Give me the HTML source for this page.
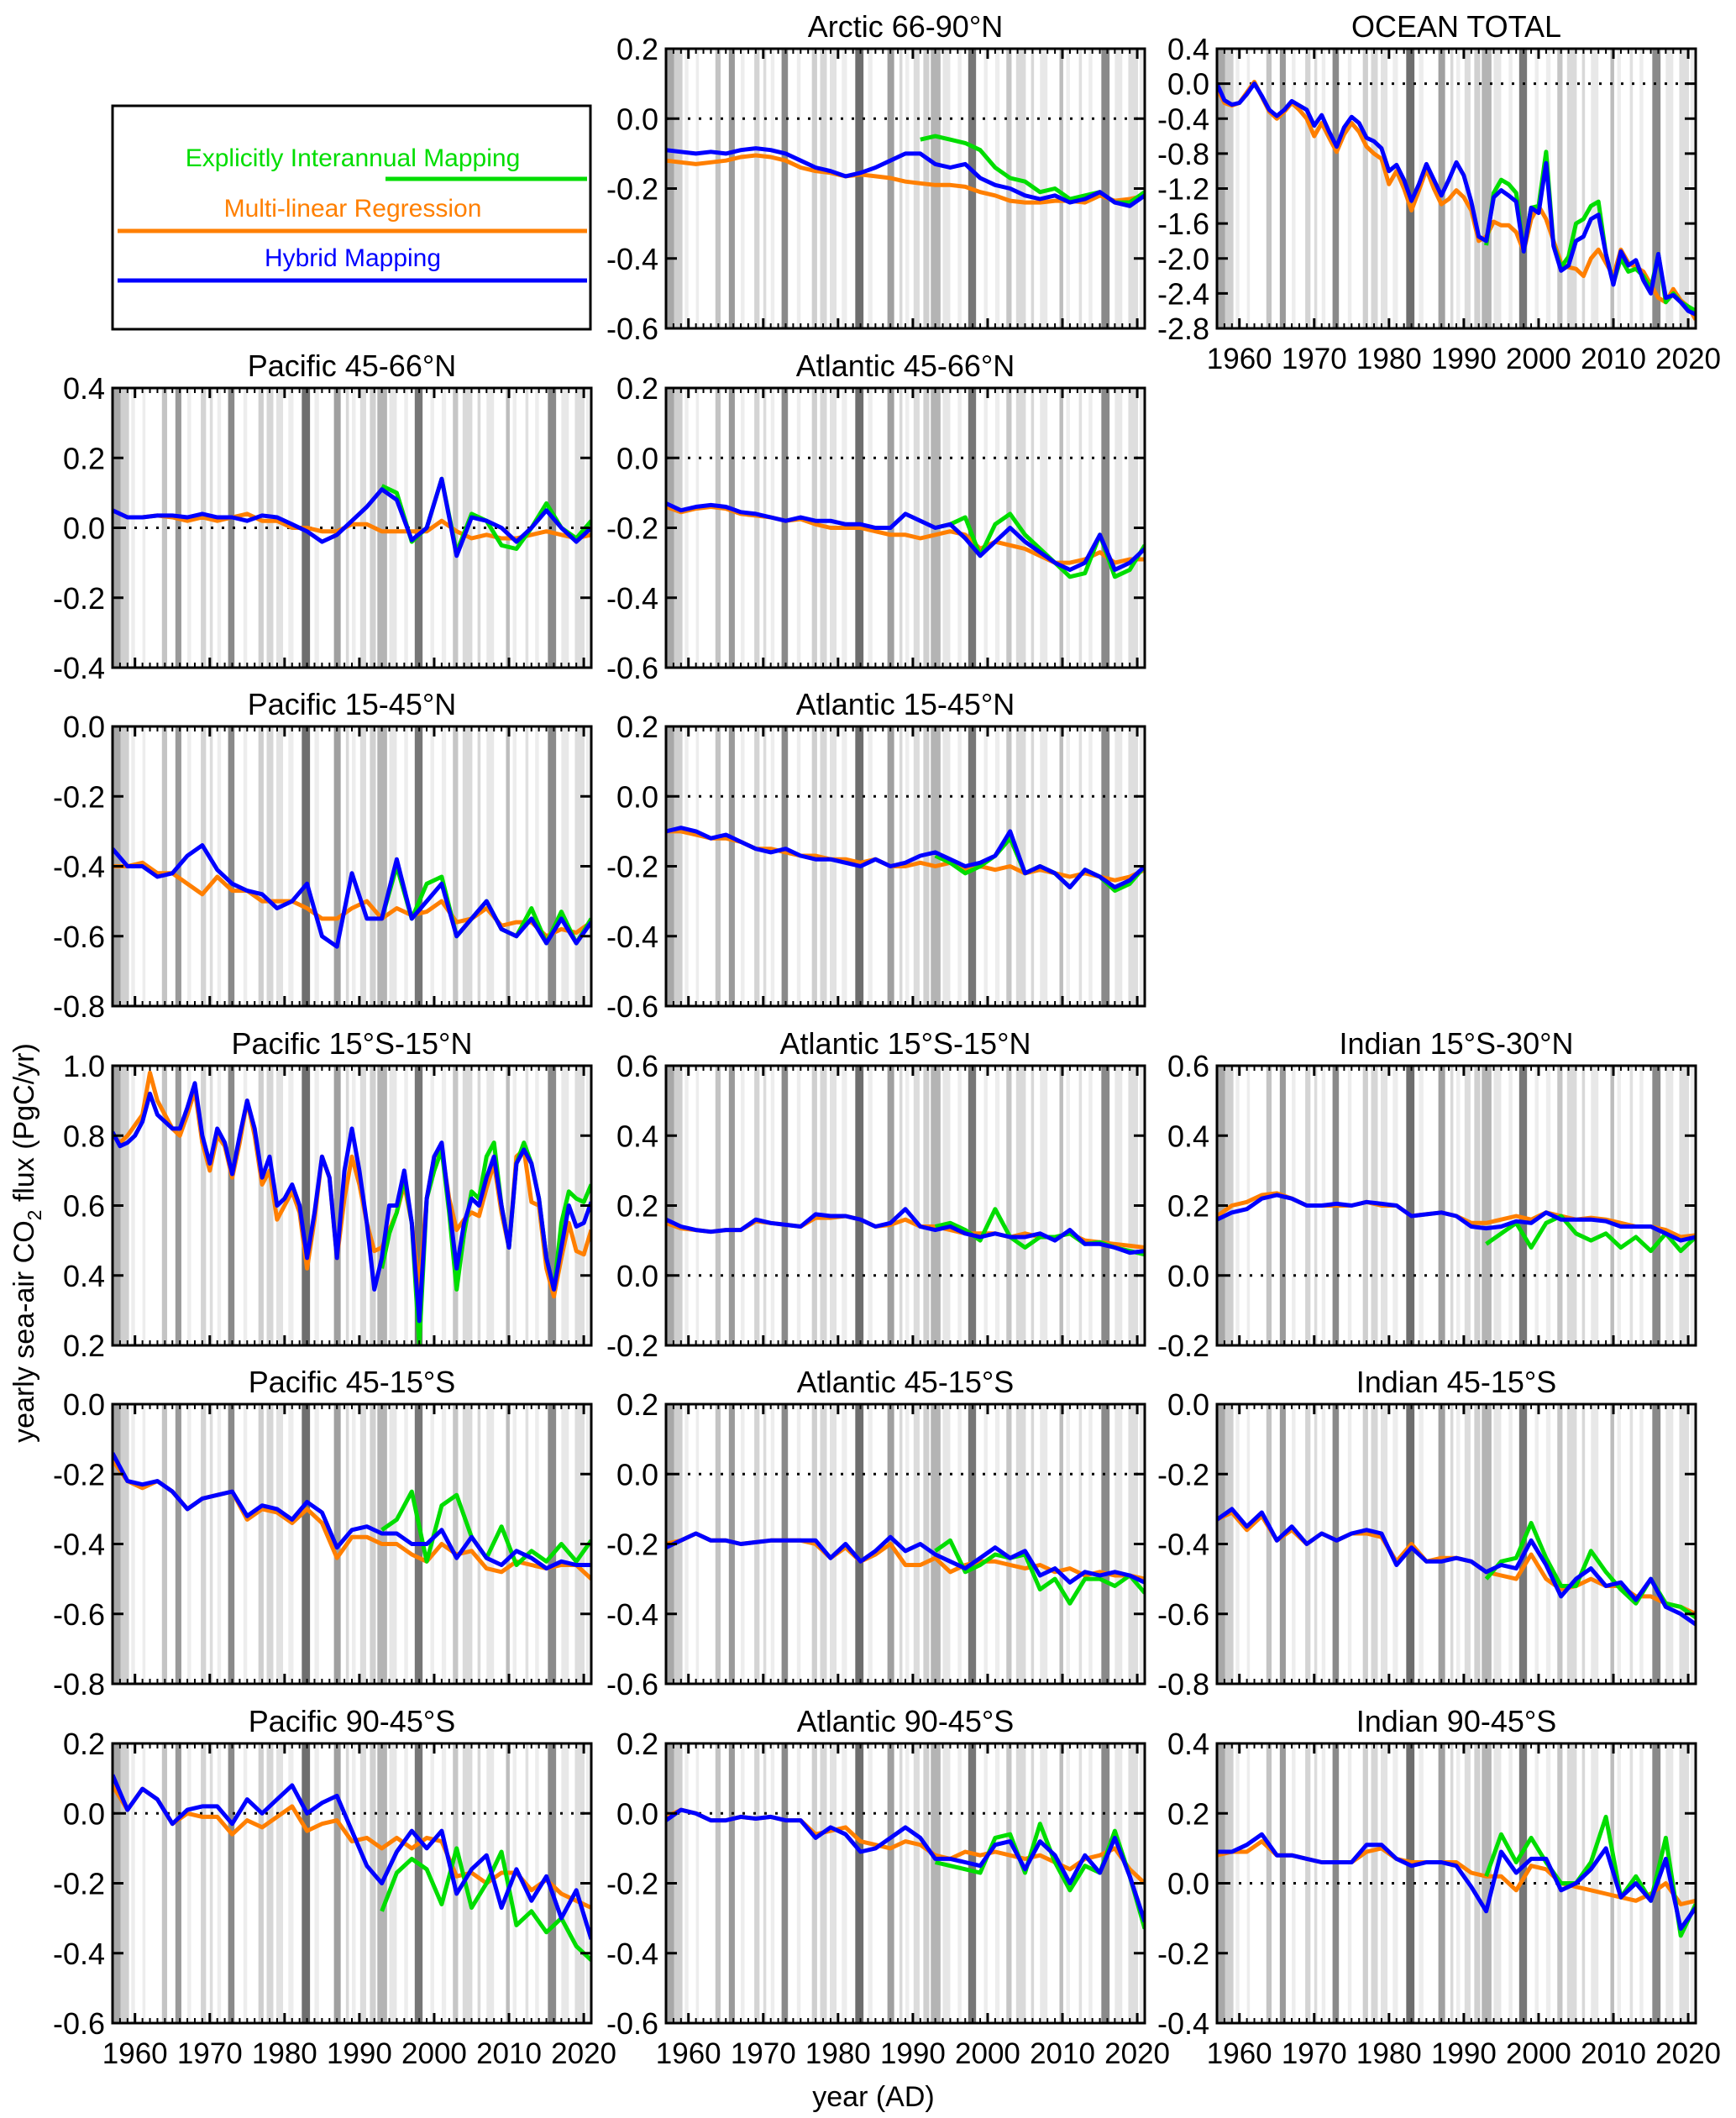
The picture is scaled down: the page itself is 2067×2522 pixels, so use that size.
<!DOCTYPE html>
<html><head><meta charset="utf-8"><title>Sea-air CO2 flux</title>
<style>
html,body{margin:0;padding:0;background:#fff;}
svg{display:block;font-family:"Liberation Sans",Arial,sans-serif;}
</style></head>
<body>
<svg id="fig" width="2067" height="2522" viewBox="0 0 2067 2522" xmlns="http://www.w3.org/2000/svg">
<rect x="0" y="0" width="2067" height="2522" fill="#fff"/>
<g id="legend">
  <rect x="134" y="126" width="569" height="266" fill="#fff" stroke="#000" stroke-width="3"/>
  <text x="420" y="198" font-size="30" fill="#00dd00" text-anchor="middle">Explicitly Interannual Mapping</text>
  <line x1="459" y1="213" x2="699" y2="213" stroke="#00dd00" stroke-width="5"/>
  <text x="420" y="258" font-size="30" fill="#ff7f00" text-anchor="middle">Multi-linear Regression</text>
  <line x1="140" y1="275" x2="699" y2="275" stroke="#ff7f00" stroke-width="5"/>
  <text x="420" y="317" font-size="30" fill="#0000ff" text-anchor="middle">Hybrid Mapping</text>
  <line x1="140" y1="334" x2="699" y2="334" stroke="#0000ff" stroke-width="5"/>
</g>
<text x="0" y="0" font-size="34" text-anchor="middle" transform="translate(40,1480) rotate(-90)">yearly sea-air CO<tspan font-size="23" dy="9">2</tspan><tspan dy="-9"> flux (PgC/yr)</tspan></text>
<text x="1040" y="2508" font-size="34" text-anchor="middle">year (AD)</text>
</svg>
<script>
// ---------- shared categories ----------
const yrs2 = [1957,1959,1961,1963,1965,1967,1969,1971,1973,1975,1977,1979,1981,1983,1985,1987,1989,1991,1993,1995,1997,1999,2001,2003,2005,2007,2009,2011,2013,2015,2017,2019,2021];
const yrs1 = [1957,1958,1959,1960,1961,1962,1963,1964,1965,1966,1967,1968,1969,1970,1971,1972,1973,1974,1975,1976,1977,1978,1979,1980,1981,1982,1983,1984,1985,1986,1987,1988,1989,1990,1991,1992,1993,1994,1995,1996,1997,1998,1999,2000,2001,2002,2003,2004,2005,2006,2007,2008,2009,2010,2011,2012,2013,2014,2015,2016,2017,2018,2019,2020,2021];
const gyrs2 = [1993,1995,1997,1999,2001,2003,2005,2007,2009,2011,2013,2015,2017,2019,2021];
const gyrs2a = [1991,1993,1995,1997,1999,2001,2003,2005,2007,2009,2011,2013,2015,2017,2019,2021];
const gyrs1 = [1993,1994,1995,1996,1997,1998,1999,2000,2001,2002,2003,2004,2005,2006,2007,2008,2009,2010,2011,2012,2013,2014,2015,2016,2017,2018,2019,2020,2021];
const xTickYears = [1960,1970,1980,1990,2000,2010,2020];
const xTickLabels = ["1960","1970","1980","1990","2000","2010","2020"];
// shading bands: start year, end year, grey level
const bandStart = [1959.5,1961,1967,1971,1974.5,1980.5,1984,1989,1994,1996,1999.5,2001,2007,2010.5,2013.5,2017,2020.3,1957,1958.1,1963.6,1965.4,1968.8,1970.0,1972.45,1976.5,1977.6,1978.9,1982.3,1986.6,1988.2,1990.1,1991.4,1992.4,1997.4,2002.5,2003.8,2005.8,2009.6,2012.2,2015.2,2018.8];
const bandEnd   = [1960,1961.4,1967.5,1971.5,1975,1981.2,1984.6,1989.5,1995,1996.5,2000,2001.6,2008,2011,2014,2018,2020.8,1958.1,1959.2,1964.3,1966.2,1969.5,1970.4,1973.3,1977.2,1978.5,1979.8,1983.4,1987.5,1988.6,1990.9,1992.2,1993.7,1998.45,2003.2,2005.1,2006.2,2010.1,2012.6,2016.3,2020.1];
const bandGrey  = ["#ededed","#ededed","#ededed","#ededed","#ededed","#ededed","#ededed","#ededed","#e6e6e6","#ededed","#ededed","#ededed","#e8e8e8","#ededed","#ededed","#e8e8e8","#ededed","#a8a8a8","#cfcfcf","#c4c4c4","#9a9a9a","#d4d4d4","#dcdcdc","#8a8a8a","#cfcfcf","#d6d6d6","#e2e2e2","#6e6e6e","#a0a0a0","#d8d8d8","#dcdcdc","#d0d0d0","#b4b4b4","#777777","#c6c6c6","#dadada","#d8d8d8","#bdbdbd","#e0e0e0","#8a8a8a","#dedede"];

// ---------- series values ----------
const arcticBlue = [-0.09,-0.095,-0.10,-0.095,-0.10,-0.09,-0.085,-0.09,-0.10,-0.12,-0.14,-0.15,-0.165,-0.155,-0.14,-0.12,-0.10,-0.10,-0.13,-0.14,-0.13,-0.17,-0.19,-0.20,-0.22,-0.23,-0.22,-0.24,-0.23,-0.21,-0.24,-0.25,-0.22];
const arcticOrange = [-0.12,-0.125,-0.13,-0.125,-0.12,-0.11,-0.105,-0.11,-0.12,-0.14,-0.15,-0.155,-0.165,-0.16,-0.165,-0.17,-0.18,-0.185,-0.19,-0.19,-0.195,-0.21,-0.22,-0.235,-0.24,-0.24,-0.235,-0.235,-0.24,-0.22,-0.235,-0.23,-0.22];
const arcticGreen = [-0.06,-0.05,-0.06,-0.07,-0.09,-0.14,-0.17,-0.18,-0.21,-0.20,-0.23,-0.22,-0.21,-0.24,-0.24,-0.21];

const totalBlue = [0.0,-0.19,-0.24,-0.22,-0.12,0.0,-0.14,-0.3,-0.37,-0.30,-0.20,-0.25,-0.3,-0.48,-0.36,-0.55,-0.72,-0.5,-0.38,-0.45,-0.62,-0.66,-0.74,-1.0,-0.93,-1.1,-1.34,-1.15,-0.92,-1.1,-1.28,-1.1,-0.9,-1.05,-1.35,-1.75,-1.8,-1.3,-1.22,-1.28,-1.35,-1.92,-1.42,-1.48,-0.91,-1.86,-2.14,-2.08,-1.8,-1.75,-1.55,-1.5,-1.95,-2.3,-1.92,-2.08,-2.02,-2.25,-2.4,-1.95,-2.45,-2.42,-2.5,-2.6,-2.64];
const totalOrange = [-0.05,-0.22,-0.25,-0.22,-0.1,0.02,-0.15,-0.32,-0.4,-0.32,-0.22,-0.3,-0.4,-0.6,-0.45,-0.62,-0.78,-0.58,-0.45,-0.55,-0.72,-0.8,-0.86,-1.15,-1.0,-1.2,-1.45,-1.22,-0.98,-1.2,-1.38,-1.32,-1.22,-1.3,-1.45,-1.8,-1.75,-1.58,-1.62,-1.62,-1.7,-1.92,-1.55,-1.4,-1.55,-1.8,-2.05,-2.1,-2.12,-2.2,-2.0,-1.9,-2.05,-2.2,-1.9,-2.05,-2.1,-2.15,-2.3,-2.45,-2.5,-2.35,-2.48,-2.55,-2.7];
const totalGreen = [-1.85,-1.25,-1.1,-1.15,-1.25,-1.92,-1.42,-1.4,-0.78,-1.85,-2.1,-1.98,-1.6,-1.55,-1.4,-1.35,-1.95,-2.28,-2.0,-2.15,-2.12,-2.2,-2.35,-1.95,-2.5,-2.4,-2.5,-2.55,-2.6];

const pacN45Blue = [0.05,0.03,0.03,0.035,0.035,0.03,0.04,0.03,0.03,0.02,0.035,0.03,0.01,-0.01,-0.04,-0.02,0.02,0.06,0.11,0.08,-0.035,0.0,0.14,-0.08,0.03,0.02,0.0,-0.04,0.0,0.05,0.0,-0.04,0.0];
const pacN45Orange = [0.05,0.03,0.03,0.035,0.03,0.02,0.03,0.02,0.03,0.04,0.02,0.02,0.0,0.0,-0.01,-0.01,0.01,0.01,-0.01,-0.01,-0.01,-0.01,0.02,-0.01,-0.03,-0.02,-0.03,-0.03,-0.02,-0.01,-0.02,-0.03,-0.02];
const pacN45Green = [0.12,0.10,-0.04,0.0,0.14,-0.07,0.04,0.02,-0.05,-0.06,0.0,0.07,0.0,-0.03,0.02];

const atlN45Blue = [-0.13,-0.15,-0.14,-0.135,-0.14,-0.155,-0.16,-0.17,-0.18,-0.17,-0.18,-0.18,-0.19,-0.19,-0.2,-0.2,-0.16,-0.18,-0.2,-0.19,-0.23,-0.28,-0.24,-0.2,-0.24,-0.27,-0.3,-0.32,-0.3,-0.22,-0.32,-0.3,-0.26];
const atlN45Orange = [-0.14,-0.155,-0.145,-0.14,-0.145,-0.16,-0.165,-0.17,-0.18,-0.175,-0.19,-0.2,-0.2,-0.2,-0.21,-0.22,-0.22,-0.23,-0.22,-0.21,-0.22,-0.26,-0.24,-0.25,-0.26,-0.28,-0.3,-0.3,-0.29,-0.27,-0.3,-0.29,-0.29];
const atlN45Green = [-0.2,-0.19,-0.17,-0.28,-0.19,-0.16,-0.22,-0.26,-0.3,-0.34,-0.33,-0.22,-0.34,-0.32,-0.25];

const pacN15Blue = [-0.35,-0.4,-0.4,-0.43,-0.42,-0.37,-0.34,-0.41,-0.45,-0.47,-0.48,-0.52,-0.5,-0.45,-0.6,-0.63,-0.42,-0.55,-0.55,-0.38,-0.55,-0.5,-0.45,-0.6,-0.55,-0.5,-0.58,-0.6,-0.55,-0.62,-0.55,-0.62,-0.56];
const pacN15Orange = [-0.4,-0.4,-0.39,-0.42,-0.42,-0.45,-0.48,-0.43,-0.47,-0.47,-0.5,-0.5,-0.5,-0.52,-0.55,-0.55,-0.52,-0.5,-0.55,-0.52,-0.54,-0.53,-0.5,-0.56,-0.55,-0.52,-0.57,-0.56,-0.56,-0.6,-0.58,-0.59,-0.56];
const pacN15Green = [-0.55,-0.4,-0.55,-0.45,-0.43,-0.6,-0.55,-0.5,-0.58,-0.6,-0.52,-0.62,-0.53,-0.62,-0.55];

const atlN15Blue = [-0.1,-0.09,-0.1,-0.12,-0.11,-0.13,-0.15,-0.16,-0.15,-0.17,-0.18,-0.18,-0.19,-0.2,-0.18,-0.2,-0.19,-0.17,-0.16,-0.18,-0.2,-0.19,-0.17,-0.1,-0.22,-0.2,-0.22,-0.26,-0.21,-0.23,-0.26,-0.24,-0.2];
const atlN15Orange = [-0.1,-0.1,-0.11,-0.12,-0.12,-0.13,-0.15,-0.15,-0.16,-0.17,-0.17,-0.18,-0.18,-0.19,-0.18,-0.2,-0.2,-0.19,-0.2,-0.19,-0.21,-0.2,-0.21,-0.2,-0.22,-0.21,-0.22,-0.23,-0.22,-0.23,-0.24,-0.23,-0.21];
const atlN15Green = [-0.17,-0.19,-0.22,-0.2,-0.17,-0.12,-0.22,-0.2,-0.22,-0.26,-0.21,-0.23,-0.27,-0.25,-0.2];

const pacEqBlue = [0.81,0.77,0.78,0.80,0.84,0.92,0.86,0.84,0.82,0.82,0.88,0.95,0.80,0.72,0.82,0.78,0.69,0.80,0.90,0.82,0.68,0.74,0.60,0.62,0.66,0.60,0.45,0.58,0.74,0.68,0.45,0.70,0.82,0.70,0.55,0.36,0.45,0.60,0.60,0.70,0.55,0.27,0.62,0.74,0.78,0.60,0.42,0.55,0.62,0.60,0.68,0.74,0.60,0.48,0.72,0.76,0.72,0.62,0.45,0.36,0.48,0.60,0.54,0.55,0.61];
const pacEqOrange = [0.80,0.78,0.80,0.83,0.86,0.98,0.90,0.86,0.82,0.80,0.86,0.93,0.78,0.70,0.80,0.77,0.68,0.78,0.90,0.80,0.66,0.70,0.56,0.60,0.64,0.58,0.42,0.56,0.74,0.68,0.45,0.62,0.74,0.66,0.55,0.47,0.48,0.53,0.58,0.66,0.55,0.36,0.62,0.74,0.76,0.62,0.53,0.56,0.58,0.57,0.65,0.72,0.58,0.48,0.74,0.76,0.61,0.60,0.42,0.34,0.45,0.55,0.47,0.46,0.53];
const pacEqGreen = [0.42,0.52,0.58,0.68,0.55,0.20,0.62,0.70,0.76,0.58,0.36,0.52,0.64,0.62,0.74,0.78,0.60,0.48,0.72,0.78,0.72,0.62,0.45,0.36,0.55,0.64,0.62,0.61,0.66];

const atlEqBlue = [0.16,0.14,0.13,0.125,0.13,0.13,0.16,0.15,0.145,0.14,0.175,0.17,0.17,0.16,0.14,0.15,0.19,0.14,0.13,0.14,0.12,0.11,0.12,0.11,0.11,0.12,0.1,0.13,0.09,0.09,0.08,0.065,0.07];
const atlEqOrange = [0.15,0.135,0.13,0.125,0.13,0.13,0.155,0.15,0.145,0.14,0.165,0.165,0.17,0.16,0.14,0.145,0.16,0.14,0.14,0.13,0.12,0.12,0.12,0.11,0.12,0.11,0.11,0.12,0.10,0.095,0.09,0.085,0.08];
const atlEqGreen = [0.14,0.15,0.13,0.1,0.19,0.11,0.08,0.11,0.11,0.12,0.09,0.095,0.08,0.07,0.06];

const indEqBlue = [0.16,0.18,0.19,0.22,0.23,0.22,0.2,0.2,0.205,0.2,0.21,0.205,0.2,0.17,0.175,0.18,0.17,0.14,0.135,0.14,0.155,0.15,0.18,0.16,0.16,0.16,0.155,0.14,0.14,0.14,0.12,0.1,0.11];
const indEqOrange = [0.17,0.2,0.21,0.23,0.235,0.22,0.2,0.2,0.2,0.2,0.21,0.2,0.2,0.17,0.175,0.18,0.17,0.15,0.15,0.16,0.17,0.16,0.18,0.17,0.16,0.165,0.16,0.15,0.14,0.14,0.13,0.11,0.115];
const indEqGreen = [0.09,0.12,0.15,0.08,0.15,0.17,0.12,0.1,0.12,0.08,0.11,0.07,0.12,0.07,0.11];

const pacS15Blue = [-0.14,-0.22,-0.23,-0.22,-0.25,-0.3,-0.27,-0.26,-0.25,-0.32,-0.29,-0.3,-0.33,-0.28,-0.31,-0.41,-0.36,-0.35,-0.37,-0.37,-0.4,-0.4,-0.36,-0.44,-0.38,-0.44,-0.46,-0.42,-0.44,-0.47,-0.45,-0.46,-0.46];
const pacS15Orange = [-0.16,-0.22,-0.24,-0.22,-0.25,-0.3,-0.27,-0.26,-0.25,-0.33,-0.3,-0.31,-0.34,-0.3,-0.34,-0.44,-0.38,-0.38,-0.4,-0.4,-0.43,-0.45,-0.4,-0.43,-0.42,-0.47,-0.48,-0.45,-0.46,-0.47,-0.46,-0.46,-0.5];
const pacS15Green = [-0.36,-0.33,-0.25,-0.45,-0.29,-0.26,-0.38,-0.44,-0.35,-0.46,-0.42,-0.45,-0.4,-0.45,-0.39];

const atlS15Blue = [-0.21,-0.19,-0.17,-0.19,-0.19,-0.2,-0.195,-0.19,-0.19,-0.19,-0.19,-0.24,-0.2,-0.25,-0.22,-0.18,-0.22,-0.2,-0.23,-0.25,-0.27,-0.24,-0.21,-0.24,-0.22,-0.29,-0.27,-0.31,-0.28,-0.29,-0.28,-0.29,-0.31];
const atlS15Orange = [-0.2,-0.19,-0.17,-0.19,-0.19,-0.2,-0.195,-0.19,-0.19,-0.19,-0.2,-0.24,-0.21,-0.25,-0.23,-0.2,-0.26,-0.26,-0.24,-0.28,-0.26,-0.25,-0.25,-0.26,-0.27,-0.26,-0.28,-0.27,-0.29,-0.28,-0.29,-0.29,-0.3];
const atlS15Green = [-0.22,-0.19,-0.28,-0.26,-0.23,-0.24,-0.23,-0.33,-0.3,-0.37,-0.3,-0.3,-0.32,-0.29,-0.34];

const indS15Blue = [-0.33,-0.3,-0.35,-0.31,-0.39,-0.35,-0.4,-0.37,-0.39,-0.37,-0.36,-0.37,-0.46,-0.41,-0.45,-0.45,-0.44,-0.45,-0.48,-0.46,-0.47,-0.39,-0.46,-0.55,-0.5,-0.47,-0.52,-0.51,-0.56,-0.5,-0.58,-0.6,-0.63];
const indS15Orange = [-0.33,-0.31,-0.36,-0.32,-0.39,-0.36,-0.4,-0.37,-0.39,-0.37,-0.37,-0.38,-0.45,-0.4,-0.45,-0.44,-0.44,-0.45,-0.48,-0.49,-0.5,-0.43,-0.5,-0.53,-0.52,-0.5,-0.52,-0.52,-0.55,-0.55,-0.57,-0.58,-0.6];
const indS15Green = [-0.5,-0.45,-0.44,-0.34,-0.44,-0.52,-0.52,-0.42,-0.48,-0.53,-0.57,-0.5,-0.57,-0.58,-0.61];

const pacS45Blue = [0.11,0.01,0.07,0.04,-0.03,0.01,0.02,0.02,-0.03,0.04,0.0,0.04,0.08,0.0,0.03,0.05,-0.05,-0.15,-0.2,-0.11,-0.05,-0.1,-0.05,-0.23,-0.16,-0.12,-0.27,-0.16,-0.25,-0.18,-0.3,-0.22,-0.36];
const pacS45Orange = [0.08,0.01,0.07,0.04,-0.03,0.0,-0.01,-0.01,-0.06,-0.02,-0.04,-0.01,0.02,-0.05,-0.03,-0.02,-0.08,-0.07,-0.1,-0.07,-0.1,-0.07,-0.08,-0.18,-0.17,-0.2,-0.17,-0.17,-0.22,-0.19,-0.23,-0.25,-0.27];
const pacS45Green = [-0.28,-0.17,-0.13,-0.16,-0.26,-0.1,-0.27,-0.2,-0.11,-0.32,-0.28,-0.34,-0.3,-0.38,-0.42];

const atlS45Blue = [-0.02,0.01,0.0,-0.02,-0.02,-0.01,-0.015,-0.01,-0.02,-0.02,-0.07,-0.04,-0.06,-0.11,-0.1,-0.07,-0.04,-0.07,-0.13,-0.13,-0.14,-0.15,-0.09,-0.08,-0.16,-0.08,-0.12,-0.2,-0.12,-0.17,-0.07,-0.18,-0.31];
const atlS45Orange = [-0.01,0.01,0.0,-0.02,-0.02,-0.01,-0.015,-0.01,-0.02,-0.02,-0.06,-0.05,-0.04,-0.08,-0.09,-0.1,-0.08,-0.09,-0.12,-0.13,-0.11,-0.12,-0.11,-0.12,-0.13,-0.12,-0.14,-0.16,-0.13,-0.12,-0.1,-0.16,-0.2];
const atlS45Green = [-0.14,-0.15,-0.16,-0.17,-0.07,-0.06,-0.17,-0.03,-0.14,-0.22,-0.15,-0.17,-0.05,-0.18,-0.33];

const indS45Blue = [0.09,0.09,0.11,0.14,0.08,0.08,0.07,0.06,0.06,0.06,0.11,0.11,0.07,0.05,0.06,0.06,0.05,-0.01,-0.08,0.09,0.03,0.07,0.07,-0.02,0.0,0.04,0.1,-0.04,0.0,-0.05,0.07,-0.13,-0.07];
const indS45Orange = [0.08,0.09,0.09,0.12,0.08,0.08,0.07,0.06,0.06,0.06,0.09,0.1,0.07,0.06,0.06,0.06,0.06,0.03,0.02,0.02,-0.02,0.05,0.04,0.0,-0.01,-0.02,-0.03,-0.04,-0.05,-0.03,0.0,-0.06,-0.05];
const indS45Green = [0.02,0.14,0.06,0.13,0.06,0.0,0.0,0.06,0.19,-0.04,0.02,-0.05,0.13,-0.15,-0.06];

// ---------- layout ----------
const colX = [134, 793, 1449];
const rowY = [58, 462, 865, 1269, 1672, 2076];
const PW = 570, PH = 333, XMIN = 1957, XMAX = 2021;

const panels = [
 {id:'arctic', title:'Arctic 66-90°N', c:1, r:0, ymin:-0.6, ymax:0.2, step:0.2, yrs:yrs2, gy:gyrs2a, b:arcticBlue, o:arcticOrange, g:arcticGreen, xl:false},
 {id:'ocean-total', title:'OCEAN TOTAL', c:2, r:0, ymin:-2.8, ymax:0.4, step:0.4, yrs:yrs1, gy:gyrs1, b:totalBlue, o:totalOrange, g:totalGreen, xl:true},
 {id:'pacific-45-66n', title:'Pacific 45-66°N', c:0, r:1, ymin:-0.4, ymax:0.4, step:0.2, yrs:yrs2, gy:gyrs2, b:pacN45Blue, o:pacN45Orange, g:pacN45Green, xl:false},
 {id:'atlantic-45-66n', title:'Atlantic 45-66°N', c:1, r:1, ymin:-0.6, ymax:0.2, step:0.2, yrs:yrs2, gy:gyrs2, b:atlN45Blue, o:atlN45Orange, g:atlN45Green, xl:false},
 {id:'pacific-15-45n', title:'Pacific 15-45°N', c:0, r:2, ymin:-0.8, ymax:0.0, step:0.2, yrs:yrs2, gy:gyrs2, b:pacN15Blue, o:pacN15Orange, g:pacN15Green, xl:false},
 {id:'atlantic-15-45n', title:'Atlantic 15-45°N', c:1, r:2, ymin:-0.6, ymax:0.2, step:0.2, yrs:yrs2, gy:gyrs2, b:atlN15Blue, o:atlN15Orange, g:atlN15Green, xl:false},
 {id:'pacific-15s-15n', title:'Pacific 15°S-15°N', c:0, r:3, ymin:0.2, ymax:1.0, step:0.2, yrs:yrs1, gy:gyrs1, b:pacEqBlue, o:pacEqOrange, g:pacEqGreen, xl:false},
 {id:'atlantic-15s-15n', title:'Atlantic 15°S-15°N', c:1, r:3, ymin:-0.2, ymax:0.6, step:0.2, yrs:yrs2, gy:gyrs2, b:atlEqBlue, o:atlEqOrange, g:atlEqGreen, xl:false},
 {id:'indian-15s-30n', title:'Indian 15°S-30°N', c:2, r:3, ymin:-0.2, ymax:0.6, step:0.2, yrs:yrs2, gy:gyrs2, b:indEqBlue, o:indEqOrange, g:indEqGreen, xl:false},
 {id:'pacific-45-15s', title:'Pacific 45-15°S', c:0, r:4, ymin:-0.8, ymax:0.0, step:0.2, yrs:yrs2, gy:gyrs2, b:pacS15Blue, o:pacS15Orange, g:pacS15Green, xl:false},
 {id:'atlantic-45-15s', title:'Atlantic 45-15°S', c:1, r:4, ymin:-0.6, ymax:0.2, step:0.2, yrs:yrs2, gy:gyrs2, b:atlS15Blue, o:atlS15Orange, g:atlS15Green, xl:false},
 {id:'indian-45-15s', title:'Indian 45-15°S', c:2, r:4, ymin:-0.8, ymax:0.0, step:0.2, yrs:yrs2, gy:gyrs2, b:indS15Blue, o:indS15Orange, g:indS15Green, xl:false},
 {id:'pacific-90-45s', title:'Pacific 90-45°S', c:0, r:5, ymin:-0.6, ymax:0.2, step:0.2, yrs:yrs2, gy:gyrs2, b:pacS45Blue, o:pacS45Orange, g:pacS45Green, xl:true},
 {id:'atlantic-90-45s', title:'Atlantic 90-45°S', c:1, r:5, ymin:-0.6, ymax:0.2, step:0.2, yrs:yrs2, gy:gyrs2, b:atlS45Blue, o:atlS45Orange, g:atlS45Green, xl:true},
 {id:'indian-90-45s', title:'Indian 90-45°S', c:2, r:5, ymin:-0.4, ymax:0.4, step:0.2, yrs:yrs2, gy:gyrs2, b:indS45Blue, o:indS45Orange, g:indS45Green, xl:true}
];

const NS = 'http://www.w3.org/2000/svg';
const svg = document.getElementById('fig');
const legendNode = document.getElementById('legend');
function mk(tag, attrs, parent){
  const e = document.createElementNS(NS, tag);
  for (const k in attrs) e.setAttribute(k, attrs[k]);
  parent.appendChild(e);
  return e;
}
function fmt(v){ return (Math.abs(v) < 1e-9 ? 0 : v).toFixed(1); }

panels.forEach(function(p){
  const x0 = colX[p.c], y0 = rowY[p.r];
  const sx = function(yr){ return x0 + (yr - XMIN) / (XMAX - XMIN) * PW; };
  const sy = function(v){ return y0 + (p.ymax - v) / (p.ymax - p.ymin) * PH; };
  const g = mk('g', {}, svg);
  
  

  const clip = mk('clipPath', {id: 'clip-' + p.id}, g);
  mk('rect', {x: x0, y: y0, width: PW, height: PH}, clip);

  const bg = mk('g', {}, g);
  
  
  for (let i = 0; i < bandStart.length; i++){
    const r = mk('rect', {x: sx(bandStart[i]), y: y0, width: Math.max(1, sx(bandEnd[i]) - sx(bandStart[i])), height: PH, fill: bandGrey[i]}, bg);
    
    
  }

  if (p.ymin < 0 && p.ymax > 0){
    const z = mk('line', {x1: x0, x2: x0 + PW, y1: sy(0), y2: sy(0), stroke: '#000', 'stroke-width': 3, 'stroke-dasharray': '3 10'}, g);
    
    
  }

  function line(yrs, vals, color, name){
    const n = Math.min(yrs.length, vals.length);
    let d = '';
    for (let i = 0; i < n; i++) d += (i ? 'L' : 'M') + sx(yrs[i]).toFixed(1) + ',' + sy(vals[i]).toFixed(1);
    const path = mk('path', {d: d, fill: 'none', stroke: color, 'stroke-width': 5, 'stroke-linejoin': 'round', 'clip-path': 'url(#clip-' + p.id + ')'}, g);
    
    
  }
  line(p.yrs, p.o, '#ff7f00', 'series-multi-linear-regression');
  line(p.gy, p.g, '#00dd00', 'series-explicitly-interannual');
  line(p.yrs, p.b, '#0000ff', 'series-hybrid-mapping');

  const fr = mk('rect', {x: x0, y: y0, width: PW, height: PH, fill: 'none', stroke: '#000', 'stroke-width': 3}, g);
  
  

  const tk = mk('g', {stroke: '#000', 'stroke-width': 2}, g);
  
  
  for (let yr = 1958; yr <= 2020; yr++){
    const major = (yr % 10 === 0);
    const L = major ? 12 : 6;
    const X = sx(yr);
    mk('line', {x1: X, x2: X, y1: y0 + PH, y2: y0 + PH - L, 'stroke-width': major ? 3 : 2}, tk);
    mk('line', {x1: X, x2: X, y1: y0, y2: y0 + L, 'stroke-width': major ? 3 : 2}, tk);
  }
  if (p.xl){
    for (let i = 0; i < xTickYears.length; i++){
      const t = mk('text', {x: sx(xTickYears[i]), y: y0 + PH + 48, 'font-size': 35, 'text-anchor': 'middle'}, g);
      t.textContent = xTickLabels[i];
      
      
    }
  }

  const nT = Math.round((p.ymax - p.ymin) / p.step);
  for (let i = 0; i <= nT; i++){
    const v = p.ymin + i * p.step;
    const Y = sy(v);
    mk('line', {x1: x0, x2: x0 + 13, y1: Y, y2: Y, stroke: '#000', 'stroke-width': 3}, g);
    mk('line', {x1: x0 + PW, x2: x0 + PW - 13, y1: Y, y2: Y, stroke: '#000', 'stroke-width': 3}, g);
    const t = mk('text', {x: x0 - 9, y: Y + 13, 'font-size': 36, 'text-anchor': 'end'}, g);
    t.textContent = fmt(v);
    
    
  }

  const tt = mk('text', {x: x0 + PW / 2, y: y0 - 14, 'font-size': 36, 'text-anchor': 'middle'}, g);
  tt.textContent = p.title;
  
  
});
svg.appendChild(legendNode);
</script>
</body></html>
